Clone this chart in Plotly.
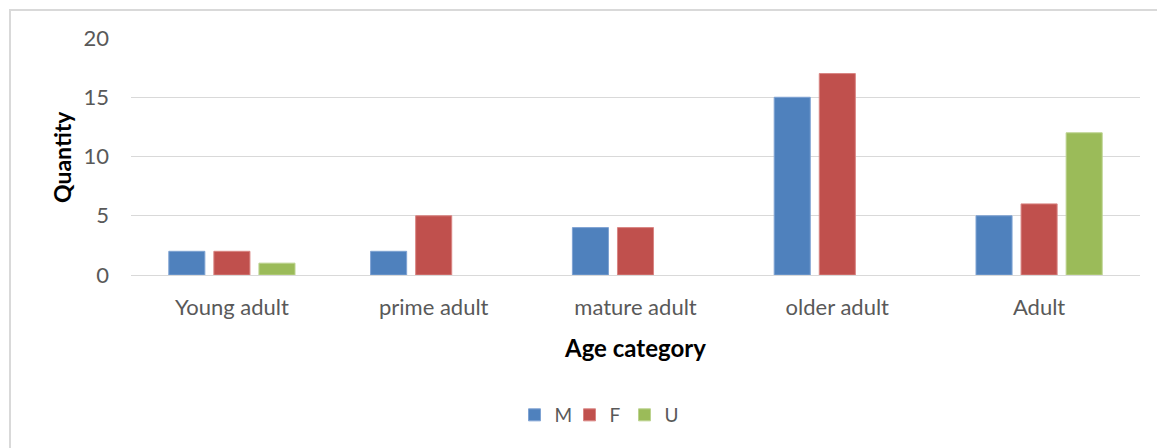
import plotly.graph_objects as go

categories = ["Young adult", "prime adult", "mature adult", "older adult", "Adult"]
male = [2, 2, 4, 15, 5]
female = [2, 5, 4, 17, 6]
unknown = [1, 0, 0, 0, 12]

series = [
    ("M", male, "#4F81BD", "#7FA3D3"),
    ("F", female, "#C0504D", "#D98583"),
    ("U", unknown, "#9BBB59", "#BCD38F"),
]

fig = go.Figure()
for name, vals, color, edge in series:
    fig.add_trace(go.Bar(
        x=categories, y=vals, name=name,
        marker=dict(color=color,
                    line=dict(color=edge, width=[1 if v else 0 for v in vals])),
    ))

W, H = 1157, 448
L, R, T, B = 131, 17, 38, 173
pw, ph = W - L - R, H - T - B

def px_x(p):
    return (p - L) / pw

def px_y(p):
    return (H - B - p) / ph

font_main = "Lato, Open Sans, sans-serif"

fig.update_layout(
    width=W, height=H,
    margin=dict(l=L, r=R, t=T, b=B),
    paper_bgcolor="white", plot_bgcolor="white",
    barmode="group", bargap=0.33, bargroupgap=0.2,
    font=dict(family=font_main, color="#595959"),
    showlegend=True,
    legend=dict(
        orientation="h", x=px_x(597), xanchor="center",
        y=px_y(415), yanchor="middle",
        font=dict(size=19, color="#595959"),
        itemwidth=30, tracegroupgap=0, entrywidth=10,
    ),
    xaxis=dict(
        showgrid=False, showline=False, ticks="",
        tickfont=dict(size=22, color="#595959"),
        ticklabelstandoff=17,
    ),
    yaxis=dict(
        range=[0, 20], tickvals=[0, 5, 10, 15, 20],
        showgrid=True, gridcolor="#D9D9D9", gridwidth=1,
        zeroline=True, zerolinecolor="#D9D9D9", zerolinewidth=1,
        showline=False, ticks="",
        tickfont=dict(size=22, color="#595959"),
        ticklabelstandoff=21,
    ),
    annotations=[
        dict(text="<b>Quantity</b>", xref="paper", yref="paper",
             x=px_x(62), y=px_y(157), textangle=-90, showarrow=False,
             xanchor="center", yanchor="middle",
             font=dict(size=23, color="black", family=font_main)),
        dict(text="<b>Age category</b>", xref="paper", yref="paper",
             x=px_x(635), y=px_y(347), showarrow=False,
             xanchor="center", yanchor="middle",
             font=dict(size=24, color="black", family=font_main)),
    ],
    shapes=[
        dict(type="line", xref="paper", yref="paper",
             x0=px_x(9), x1=px_x(1160), y0=px_y(10), y1=px_y(10),
             line=dict(color="#D9D9D9", width=2)),
        dict(type="line", xref="paper", yref="paper",
             x0=px_x(10), x1=px_x(10), y0=px_y(9), y1=px_y(460),
             line=dict(color="#D9D9D9", width=2)),
    ],
)

fig.write_html("out.html")
